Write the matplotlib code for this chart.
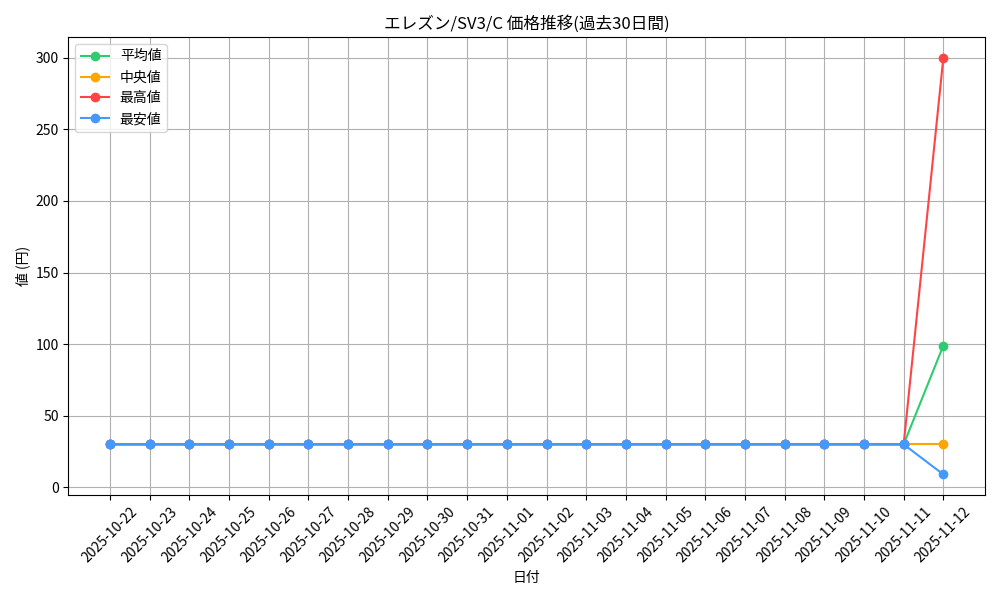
import matplotlib
matplotlib.use('Agg')
import matplotlib.pyplot as plt
import pandas as pd

plt.rcParams['font.family'] = ['Noto Sans CJK JP', 'DejaVu Sans']

dates = [d.strftime('%Y-%m-%d') for d in pd.date_range('2025-10-22', '2025-11-12')]
avg_price = [30] * 21 + [99]
median_price = [30] * 21 + [30]
max_price = [30] * 21 + [300]
min_price = [30] * 21 + [9]

fig, ax = plt.subplots(figsize=(10, 6), dpi=100)
ax.plot(dates, avg_price, marker='o', color='#2ecc71', label='平均値')
ax.plot(dates, median_price, marker='o', color='#ffa500', label='中央値')
ax.plot(dates, max_price, marker='o', color='#ff4444', label='最高値')
ax.plot(dates, min_price, marker='o', color='#4499ff', label='最安値')

ax.set_title('エレズン/SV3/C 価格推移(過去30日間)')
ax.set_xlabel('日付')
ax.set_ylabel('値 (円)')
ax.grid(True)
ax.legend(loc='upper left')
plt.xticks(rotation=45)
plt.tight_layout()
plt.savefig('out.png')
